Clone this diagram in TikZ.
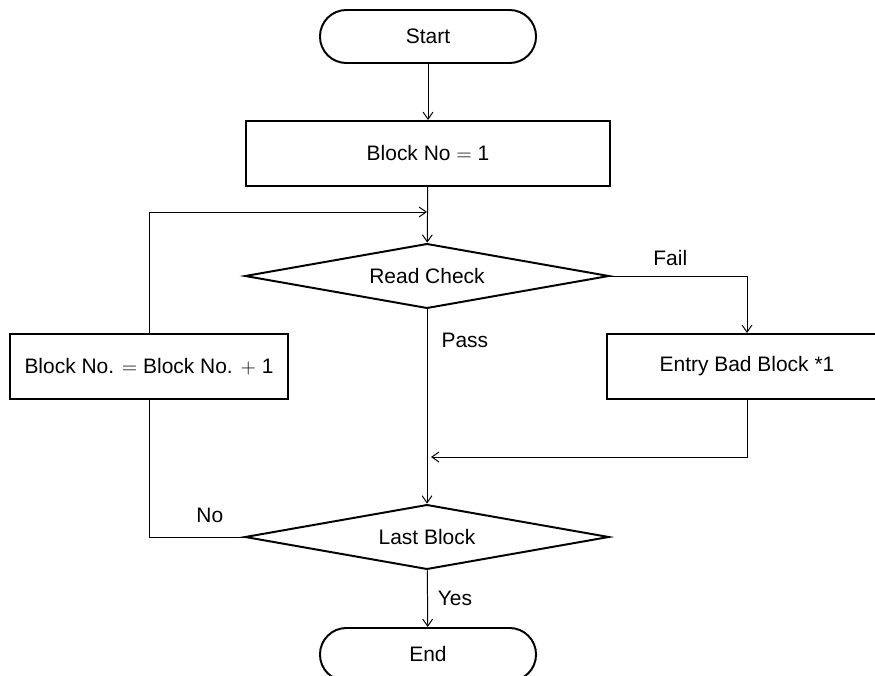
\documentclass[tikz,border=0pt]{standalone}
\usepackage{fontspec}
\setmainfont{Liberation Sans}
\usetikzlibrary{arrows.meta, shapes.geometric, positioning, calc}

\begin{document}
\begin{tikzpicture}[
  x=0.025cm, y=-0.025cm,
  font=\fontsize{14.9}{18}\selectfont,
  terminal/.style={draw, rectangle, rounded corners=0.66cm, line width=1.4pt,
                   minimum width=5.4cm, minimum height=1.325cm},
  process/.style={draw, rectangle, line width=1.4pt,
                  minimum height=1.625cm},
  decision/.style={draw, diamond, line width=1.4pt, inner sep=0pt,
                   aspect=5.6, minimum width=9.1cm, minimum height=1.62cm},
  flow/.style={-{Straight Barb[length=5pt, width=7pt]}, line width=0.7pt},
  link/.style={line width=0.7pt},
  lbl/.style={inner sep=0pt}
]
\clip (0,0) rectangle (875,676);

%% Nodes
\node[terminal] (start) at (428,36.5)  {Start};
\node[process, minimum width=9.075cm] (init) at (428,153.5) {Block No $=$ 1};
\node[decision] (chk)   at (427,276)   {Read Check};
\node[process, minimum width=6.95cm] (inc) at (149,366.5) {Block No. $=$ Block No. $+$ 1};
\node[process, minimum width=7cm] (bad) at (747,366.5) {Entry Bad Block *1};
\node[decision] (last)  at (427,537)   {Last Block};
\node[terminal] (stop)  at (428,654.5) {End};

%% Join points
\coordinate (loop)  at (427,212);
\coordinate (merge) at (431,457);

%% Main flow
\draw[flow] (start) -- (init);
\draw[flow] (init) -- (chk);
\draw[flow] (chk) -- (last)
    node[lbl, pos=0.16, anchor=west, xshift=10pt] {Pass};
\draw[flow] (last) -- (stop)
    node[lbl, midway, anchor=west, xshift=7pt] {Yes};

%% Fail branch
\draw[flow] (chk.east) -| (bad.north)
    node[lbl, pos=0.22, above=7pt] {Fail};
\draw[flow] (bad.south) |- (merge);

%% Loop back
\draw[link] (last.west) -| (inc.south)
    node[lbl, pos=0.18, above=10pt] {No};
\draw[flow] (inc.north) |- (loop);

\end{tikzpicture}
\end{document}
